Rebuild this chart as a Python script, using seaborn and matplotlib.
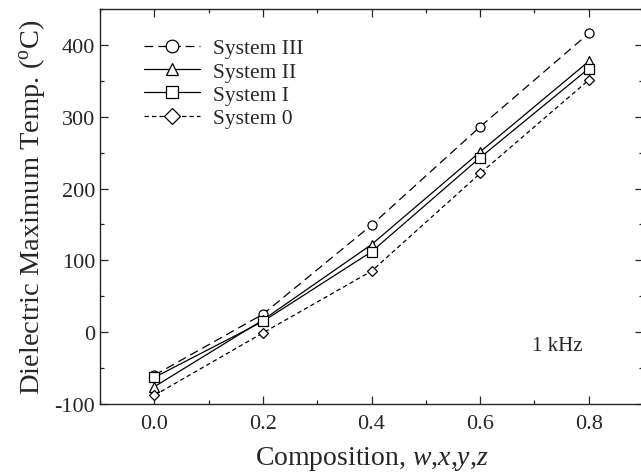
import pandas as pd
import matplotlib
matplotlib.use("Agg")
import matplotlib.pyplot as plt
import seaborn as sns
from matplotlib.ticker import MultipleLocator

composition = [0.0, 0.2, 0.4, 0.6, 0.8]
system_iii = [-60, 25, 149, 286, 416]
system_ii = [-76, 17, 122, 251, 377]
system_i = [-63, 15, 112, 243, 367]
system_0 = [-88, -1, 85, 221, 351]
series_names = ["System III", "System II", "System I", "System 0"]

df = pd.DataFrame({
    "Composition": composition * 4,
    "Temp": system_iii + system_ii + system_i + system_0,
    "System": sum([[n] * len(composition) for n in series_names], []),
})

sns.set_style("ticks")
plt.rcParams["font.family"] = ["Liberation Serif", "DejaVu Serif"]
plt.rcParams["mathtext.fontset"] = "custom"
plt.rcParams["mathtext.rm"] = "Liberation Serif"
plt.rcParams["mathtext.it"] = "Liberation Serif:italic"
plt.rcParams["axes.unicode_minus"] = False

fig = plt.figure(figsize=(6.41, 4.77), dpi=100)
ax = fig.add_axes([100 / 641, (477 - 405) / 477, 543 / 641, 395 / 477])

sns.lineplot(
    data=df, x="Composition", y="Temp", style="System", style_order=series_names,
    markers={"System III": "o", "System II": "^", "System I": "s", "System 0": "D"},
    dashes={"System III": (7, 4), "System II": "", "System I": "", "System 0": (3.5, 2.5)},
    color="black", linewidth=0.9, markersize=6.5, markerfacecolor="white",
    markeredgecolor="black", markeredgewidth=0.9, ax=ax,
)
for line in ax.lines:
    line.set_markersize(5.5 if line.get_marker() == "D" else 6.5)

ax.set_xlim(-0.1, 0.9)
ax.set_ylim(-100, 450)
ax.xaxis.set_major_locator(MultipleLocator(0.2))
ax.xaxis.set_minor_locator(MultipleLocator(0.1))
ax.yaxis.set_major_locator(MultipleLocator(100))
ax.yaxis.set_minor_locator(MultipleLocator(50))
ax.set_xticks([0.0, 0.2, 0.4, 0.6, 0.8])
ax.set_xticklabels(["0.0", "0.2", "0.4", "0.6", "0.8"])
ax.tick_params(which="both", direction="in", top=True, right=True, labelsize=16, width=0.9)
ax.tick_params(which="major", length=6)
ax.tick_params(axis="x", pad=7)
ax.tick_params(which="minor", length=3)
for s in ax.spines.values():
    s.set_visible(True)
    s.set_linewidth(1.0)

ax.set_xlabel("Composition, $\\it{w}$,$\\it{x}$,$\\it{y}$,$\\it{z}$", fontsize=20, labelpad=8)
ax.set_ylabel("Dielectric Maximum Temp. ($\\mathregular{^oC}$)", fontsize=20.5, labelpad=5)
ax.text(0.742, -19, "1 kHz", fontsize=15, ha="center", va="center")

ax.legend(loc="upper left", bbox_to_anchor=(0.045, 0.975), frameon=False, fontsize=15.5,
          handlelength=2.6, labelspacing=0.15, handletextpad=0.6, markerscale=1.4, title=None)

fig.savefig("out.png", dpi=100)
